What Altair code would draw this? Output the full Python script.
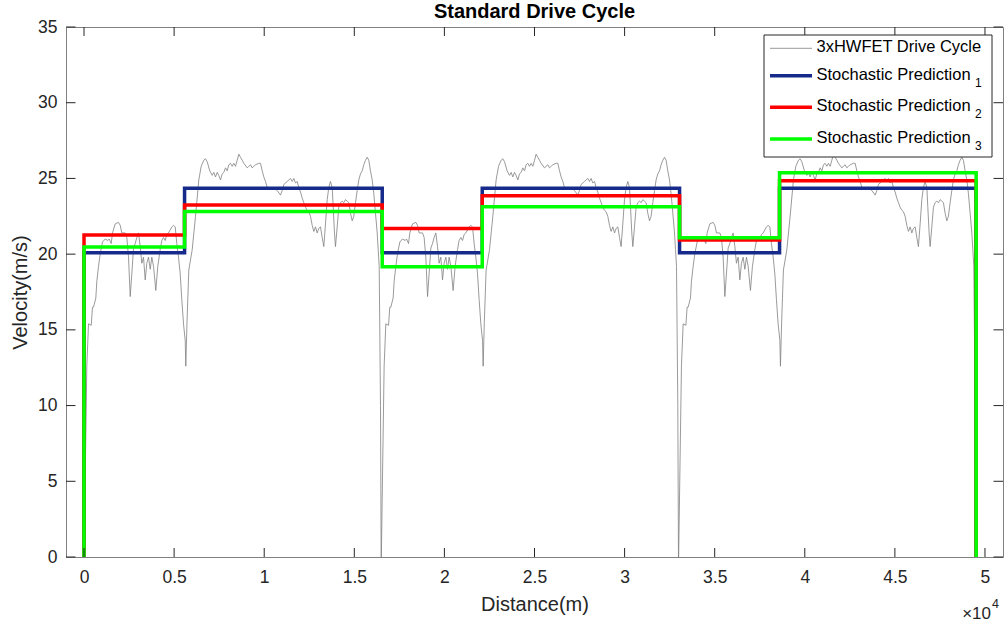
import altair as alt
import pandas as pd

# One HWFET cycle: distance (m) and velocity (m/s)
cycle_d = [0, 155, 250, 400, 470, 527, 655, 710, 805, 900, 1027, 1176, 1321, 1398, 1509,
           1581, 1731, 1914, 2009, 2098, 2286, 2375, 2469, 2564, 2652, 2747, 2841, 2930,
           3024, 3119, 3207, 3302, 3396, 3485, 3579, 3673, 3762, 3857, 3984, 4095, 4228,
           4317, 4411, 4506, 4595, 4689, 4783, 4872, 4966, 5061, 5150, 5244, 5338, 5427,
           5521, 5616, 5649, 5715, 5815, 6004, 6187, 6370, 6503, 6648, 6742, 6836, 6981,
           7114, 7203, 7297, 7391, 7480, 7574, 7669, 7758, 7852, 7946, 8035, 8129, 8224,
           8312, 8407, 8501, 8590, 8684, 8779, 8867, 9056, 9145, 9239, 9333, 9422, 9517,
           9700, 9794, 9889, 9977, 10072, 10166, 10443, 10626, 10721, 10904, 10998, 11087,
           11276, 11459, 11554, 11642, 11736, 11831, 11920, 12014, 12108, 12197, 12291,
           12385, 12474, 12568, 12663, 12752, 12846, 12940, 13029, 13123, 13218, 13307,
           13401, 13495, 13584, 13678, 13773, 13828, 13900, 13956, 14050, 14139, 14233,
           14328, 14417, 14511, 14605, 14694, 14788, 14883, 14971, 15066, 15160, 15249,
           15343, 15437, 15526, 15621, 15715, 15804, 15898, 15993, 16081, 16176, 16270,
           16326, 16381, 16453, 16490]
cycle_v = [0, 12.6, 15.4, 15.3, 16.5, 16.5, 17.1, 18.2, 19.2, 20.05, 20.8, 21.0, 20.9, 21.0,
           20.7, 21.4, 22.0, 22.1, 21.9, 21.4, 21.4, 21.1, 19.8, 17.2, 18.7, 20.4, 20.7, 21.1,
           21.4, 20.5, 19.4, 19.8, 18.3, 19.4, 19.8, 19.0, 19.8, 19.2, 17.6, 19.2, 20.3,
           20.9, 21.1, 20.9, 21.3, 21.4, 21.6, 21.8, 21.9, 21.8, 20.7, 19.8, 18.7, 17.0,
           15.4, 14.3, 12.6, 15.5, 18.95, 20.3, 22.5, 24.9, 25.8, 26.2, 26.3, 26.1, 25.5,
           25.2, 25.4, 25.1, 25.4, 25.2, 24.9, 25.3, 25.4, 25.7, 25.5, 25.9, 26.0, 25.8,
           26.0, 25.8, 26.2, 26.6, 26.4, 26.2, 26.0, 25.7, 25.8, 25.9, 25.7, 25.8, 25.9,
           26.0, 26.0, 25.5, 25.1, 24.8, 24.4, 24.4, 24.3, 24.2, 23.9, 24.2, 24.6,
           24.8, 25.0, 24.8, 25.0, 24.7, 24.8, 24.4, 24.1, 23.7, 23.4, 23.1,
           22.9, 22.8, 22.5, 21.9, 21.5, 21.8, 21.4, 21.7, 21.8, 21.1, 20.5,
           22.0, 23.6, 24.4, 24.8, 24.4, 23.1, 21.4, 20.5, 21.8, 23.1, 23.4,
           23.5, 23.4, 23.6, 23.5, 23.4, 22.7, 22.2, 22.5, 23.4, 24.2, 24.9,
           25.3, 25.5, 25.9, 26.2, 26.4, 26.2, 25.5, 24.9, 24.0, 22.7, 21.4,
           20.3, 19.2, 10.0, 0]
cycle_len = 16500
n_cycles = 3

# Piecewise-constant velocity predictions over the route segments
seg_edges = [0, 5580, 16550, 22100, 33050, 38600, 49510]
pred1 = [20.1, 24.35, 20.1, 24.35, 20.1, 24.35]
pred2 = [21.26, 23.24, 21.7, 23.85, 20.93, 24.84]
pred3 = [20.47, 22.82, 19.17, 23.13, 21.08, 25.37]

x_ticks = [0, 5000, 10000, 15000, 20000, 25000, 30000, 35000, 40000, 45000, 50000]
y_ticks = [0, 5, 10, 15, 20, 25, 30, 35]

FONT = "Liberation Sans"
INK = "#262626"
W, H = 937, 530

# repeated drive cycle
rows = []
for k in range(n_cycles):
    for d, v in zip(cycle_d, cycle_v):
        rows.append({"d": d + k * cycle_len, "v": v, "i": len(rows)})
drive = pd.DataFrame(rows)


def step_frame(values):
    pts = [(seg_edges[0], 0.0)]
    for j, val in enumerate(values):
        pts.append((seg_edges[j], val))
        pts.append((seg_edges[j + 1], val))
    pts.append((seg_edges[-1], 0.0))
    return pd.DataFrame({"d": [p[0] for p in pts], "v": [p[1] for p in pts],
                         "i": list(range(len(pts)))})


x_scale = alt.Scale(domain=[-1000, 51000], nice=False, zero=False)
y_scale = alt.Scale(domain=[0, 35], nice=False)

x_enc = alt.X("d:Q", scale=x_scale,
              axis=alt.Axis(values=x_ticks, labelExpr="format(datum.value / 10000, '~g')",
                            title="Distance(m)", titlePadding=9, labelPadding=11))
y_enc = alt.Y("v:Q", scale=y_scale,
              axis=alt.Axis(values=y_ticks, title="Velocity(m/s)", titlePadding=7,
                            labelPadding=9))

drive_layer = alt.Chart(drive).mark_line(color="#808080", strokeWidth=0.8).encode(
    x=x_enc, y=y_enc, order="i:Q")

colors = ["#152a8a", "#ff0000", "#00ff00"]
pred_layers = [
    alt.Chart(step_frame(p)).mark_line(color=c, strokeWidth=3.5).encode(
        x=x_enc, y=y_enc, order="i:Q")
    for p, c in zip([pred1, pred2, pred3], colors)
]

# inward tick marks on all four sides
xt = pd.DataFrame({"d": x_ticks})
yt = pd.DataFrame({"v": y_ticks})
tick_kw = dict(color=INK, strokeWidth=1)
ticks = [
    alt.Chart(xt).mark_rule(**tick_kw).encode(x=x_enc, y=alt.value(H), y2=alt.value(H - 9)),
    alt.Chart(xt).mark_rule(**tick_kw).encode(x=x_enc, y=alt.value(0), y2=alt.value(9)),
    alt.Chart(yt).mark_rule(**tick_kw).encode(y=y_enc, x=alt.value(0), x2=alt.value(9.5)),
    alt.Chart(yt).mark_rule(**tick_kw).encode(y=y_enc, x=alt.value(W), x2=alt.value(W - 9.5)),
]

# legend drawn in plot-area pixels
one = pd.DataFrame({"k": [0]})
legend = [alt.Chart(one).mark_rect(fill="white", stroke=INK, strokeWidth=1).encode(
    x=alt.value(698), x2=alt.value(926), y=alt.value(8), y2=alt.value(130))]
legend_rows = [
    ("3xHWFET Drive Cycle", "", "#808080", 0.8, 21.3),
    ("Stochastic Prediction", "1", colors[0], 3.5, 48.7),
    ("Stochastic Prediction", "2", colors[1], 3.5, 80.3),
    ("Stochastic Prediction", "3", colors[2], 3.5, 112.0),
]
for label, sub, col, sw, yy in legend_rows:
    legend.append(alt.Chart(one).mark_rule(color=col, strokeWidth=sw).encode(
        x=alt.value(704), x2=alt.value(746), y=alt.value(yy)))
    legend.append(alt.Chart(one).mark_text(
        text=label, font=FONT, fontSize=16.5, color="black", align="left",
        baseline="middle").encode(x=alt.value(750.5), y=alt.value(yy - 1)))
    if sub:
        legend.append(alt.Chart(one).mark_text(
            text=sub, font=FONT, fontSize=12, color="black", align="left",
            baseline="middle").encode(x=alt.value(909), y=alt.value(yy + 7)))

# axis exponent
exponent = [
    alt.Chart(one).mark_text(text="×10", font=FONT, fontSize=17, color=INK, align="right",
                             baseline="middle").encode(x=alt.value(925), y=alt.value(587)),
    alt.Chart(one).mark_text(text="4", font=FONT, fontSize=12.5, color=INK, align="left",
                             baseline="middle").encode(x=alt.value(926), y=alt.value(577)),
]

chart = alt.layer(drive_layer, *pred_layers, *ticks, *legend, *exponent).properties(
    width=W, height=H,
    background="white",
    title=alt.TitleParams("Standard Drive Cycle", font=FONT, fontSize=20,
                          fontWeight="bold", color="black", anchor="middle", offset=1,
                          dy=5),
    autosize=alt.AutoSizeParams(type="none"),
    padding={"left": 66, "right": 2, "top": 27, "bottom": 67},
).configure_view(stroke="#808080", strokeWidth=1).configure_axis(
    domain=False, grid=False, tickSize=0, labelFont=FONT, labelFontSize=17.5,
    labelColor=INK, titleFont=FONT, titleFontSize=20, titleFontWeight="normal",
    titleColor=INK,
)

chart.save("out.html", embed_options={"renderer": "svg", "actions": False})
